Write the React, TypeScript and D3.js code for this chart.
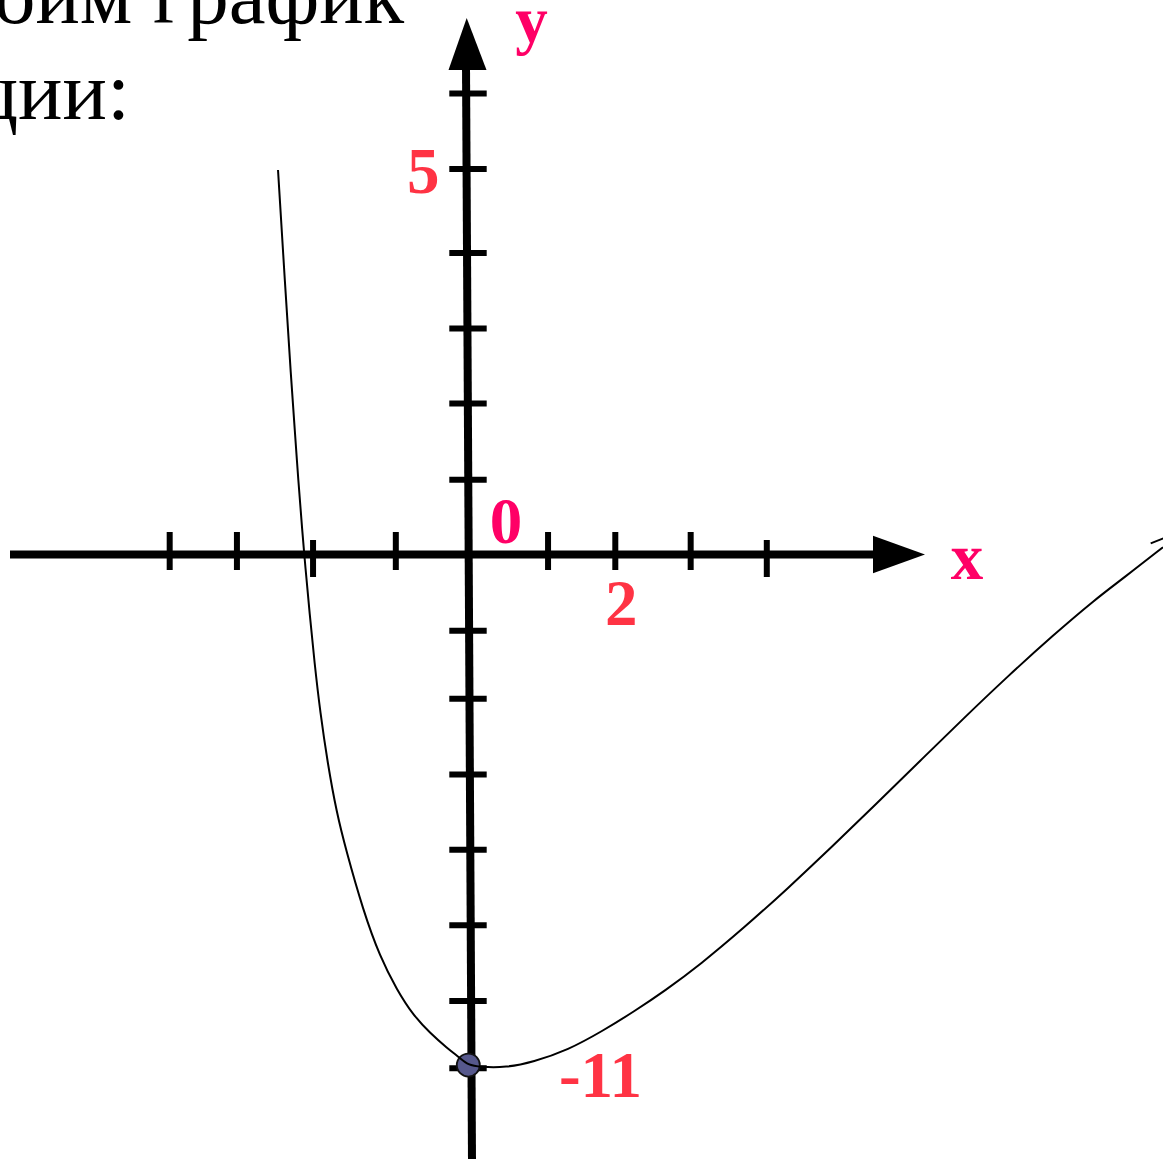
import React, { useEffect } from "react";
import * as d3 from "d3";

// ---- data ----
const titleLines = ["Построим график", "функции:"];

const xTickValues = [-4.03, -3.12, -2.09, -0.97, 1.09, 2, 3.02, 4.05];
const yTickValues = [-11, -9.56, -7.94, -6.32, -4.71, -3.09, -1.63, 0.97, 1.96, 2.93, 3.91, 5, 5.98];

const xLabelValues = [2];
const yLabelValues = [5, -11];
const originLabel = "0";
const xAxisName = "x";
const yAxisName = "y";

const curveX = [
  -2.564, -2.47, -2.386, -2.337, -2.29, -2.237, -2.194, -2.137, -2.07, -1.992, -1.893,
  -1.77, -1.644, -1.414, -1.184, -0.954, -0.737, -0.507, -0.277, -0.101, 0.007, 0.169,
  0.521, 0.886, 1.36, 1.834, 2.253, 2.673, 3.146, 3.742, 4.337, 4.933, 5.528, 6.123,
  6.719, 7.314, 7.91, 8.505, 8.857, 9.411,
];
const curveY = [
  4.987, 3.521, 2.263, 1.615, 0.966, 0.318, -0.268, -1.252, -2.323, -3.393, -4.464,
  -5.534, -6.326, -7.611, -8.617, -9.323, -9.859, -10.244, -10.565, -10.779, -10.929, -10.972,
  -10.985, -10.865, -10.61, -10.196, -9.784, -9.338, -8.784, -7.992, -7.144, -6.258, -5.344, -4.421,
  -3.498, -2.603, -1.747, -0.946, -0.529, 0.095,
];
const stubX = [9.245, 9.416];
const stubY = [0.145, 0.21];

const markedX = [0];
const markedY = [-10.93];

// ---- layout / style ----
const W = 1163;
const H = 1159;
const PINK = "#ff0066";
const RED = "#ff3344";
const SERIF = "'Liberation Serif', 'Times New Roman', serif";
const LABEL_SIZE = 65;
const loweredXTickIdx = [2, 7];

export default function App() {
  useEffect(() => {
    document.body.style.margin = "0";
    document.body.style.overflow = "hidden";
  }, []);

  const x = d3.scaleLinear().domain([0, 2]).range([467.5, 615.3]);
  const y = d3.scaleLinear().domain([-11, 0, 5]).range([1068.3, 554.5, 169]);

  const x0 = x(0);
  const y0 = y(0);

  const pts: [number, number][] = curveX.map((v, i) => [v, curveY[i]]);
  const stub: [number, number][] = stubX.map((v, i) => [v, stubY[i]]);
  const line = d3
    .line<[number, number]>()
    .x((d) => x(d[0]))
    .y((d) => y(d[1]))
    .curve(d3.curveBasis);

  const label = (
    text: string,
    px: number,
    py: number,
    color: string,
    anchor: "start" | "middle" | "end",
    key: string
  ) => (
    <text
      key={key}
      x={px}
      y={py}
      fill={color}
      fontFamily={SERIF}
      fontWeight="bold"
      fontSize={LABEL_SIZE}
      textAnchor={anchor}
    >
      {text}
    </text>
  );

  return (
    <svg
      width={W}
      height={H}
      viewBox={`0 0 ${W} ${H}`}
      style={{ position: "absolute", left: 0, top: 0, display: "block", background: "#fff" }}
    >
      <rect x={0} y={0} width={W} height={H} fill="#fff" />

      {/* title */}
      <text x={404} y={23} fontFamily={SERIF} fontSize={83} fill="#000" textAnchor="end">
        {titleLines[0]}
      </text>
      <text x={130} y={118.5} fontFamily={SERIF} fontSize={83} fill="#000" textAnchor="end">
        {titleLines[1]}
      </text>

      {/* x axis */}
      <line x1={10} y1={y0} x2={878} y2={y0} stroke="#000" strokeWidth={8} />
      <polygon points={`873,${y0 - 18.7} 925,${y0} 873,${y0 + 18.7}`} fill="#000" />
      {xTickValues.map((v, i) => {
        const low = loweredXTickIdx.includes(i);
        return (
          <line
            key={`xt${i}`}
            x1={x(v)}
            x2={x(v)}
            y1={low ? y0 - 14.5 : y0 - 22.5}
            y2={low ? y0 + 22.5 : y0 + 15.5}
            stroke="#000"
            strokeWidth={6}
          />
        );
      })}

      {/* y axis */}
      <line x1={x0 - 1.5} y1={66} x2={x0 + 4.5} y2={H + 2} stroke="#000" strokeWidth={8} />
      <polygon points={`${x0 - 19},70 ${x0 - 0.8},18 ${x0 + 19},70`} fill="#000" />
      {yTickValues.map((v, i) => (
        <line
          key={`yt${i}`}
          x1={x0 + 0.5 - 18.7}
          x2={x0 + 0.5 + 18.7}
          y1={y(v)}
          y2={y(v)}
          stroke="#000"
          strokeWidth={6}
        />
      ))}

      {/* marked point */}
      {markedX.map((v, i) => (
        <circle
          key={`m${i}`}
          cx={x(v) + 0.8}
          cy={y(markedY[i])}
          r={11.5}
          fill="#56588c"
          stroke="#111"
          strokeWidth={1.8}
        />
      ))}

      {/* function graph */}
      <path d={line(pts) || ""} fill="none" stroke="#000" strokeWidth={2} />
      <path d={line(stub) || ""} fill="none" stroke="#000" strokeWidth={2} />

      {/* labels */}
      {label(originLabel, x0 + 38.5, y0 - 12, PINK, "middle", "o")}
      {xLabelValues.map((v) => label(String(v), x(v) + 6, y0 + 70.5, RED, "middle", `xl${v}`))}
      {yLabelValues.map((v) =>
        v > 0
          ? label(String(v), x0 - 28, y(v) + 24, RED, "end", `yl${v}`)
          : label(String(v), x0 + 133, y(v) + 29, RED, "middle", `yl${v}`)
      )}
      {label(xAxisName, 967, y0 + 24.5, PINK, "middle", "xn")}
      {label(yAxisName, 531.5, 42, PINK, "middle", "yn")}
    </svg>
  );
}
